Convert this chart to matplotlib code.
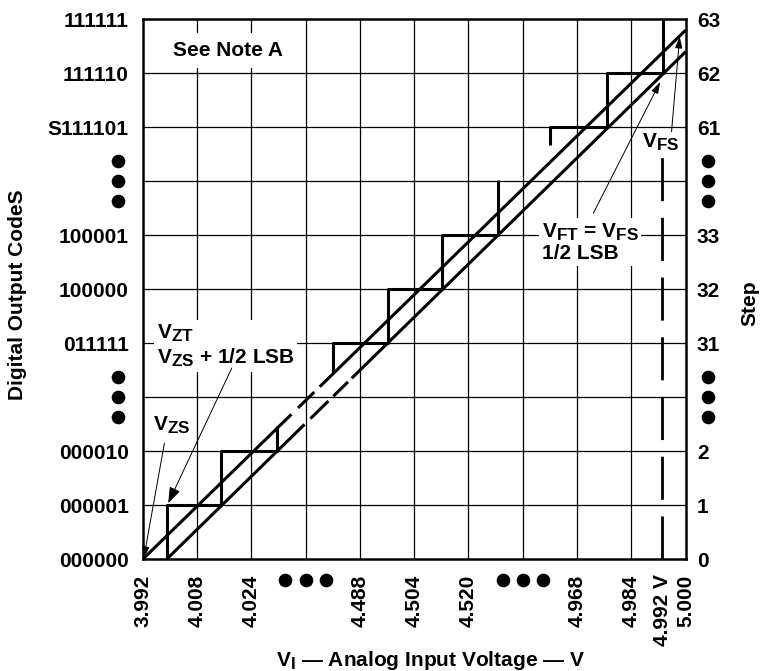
import matplotlib
matplotlib.use("Agg")
import matplotlib.pyplot as plt
import numpy as np
import matplotlib._mathtext as mt

# the drawing uses nearly full-size subscripts
if hasattr(mt, 'SHRINK_FACTOR'):
    mt.SHRINK_FACTOR = 0.82

plt.rcParams['font.family'] = ['Liberation Sans', 'DejaVu Sans']
plt.rcParams['font.weight'] = 'bold'
plt.rcParams['mathtext.fontset'] = 'custom'
plt.rcParams['mathtext.rm'] = 'Liberation Sans:bold'
plt.rcParams['mathtext.it'] = 'Liberation Sans:bold'
plt.rcParams['mathtext.bf'] = 'Liberation Sans:bold'

# x axis (input voltage), grid cells = 1 LSB
x_pos = [0, 1, 2, 3, 4, 5, 6, 7, 8, 9, 9.57, 10]
x_labels = ['3.992', '4.008', '4.024', '', '4.488', '4.504', '4.520', '',
            '4.968', '4.984', '4.992 V', '5.000']
# y axis (output codes / steps)
y_pos = [0, 1, 2, 3, 4, 5, 6, 7, 8, 9, 10]
code_labels = ['000000', '000001', '000010', '', '011111', '100000', '100001', '',
               'S111101', '111110', '111111']
step_labels = ['0', '1', '2', '', '31', '32', '33', '', '61', '62', '63']
breaks = [3, 7]

# staircase (transfer function), three visible pieces
stair_pieces = [
    ([0.44, 0.44, 1.44, 1.44, 2.47, 2.47], [0, 1, 1, 2, 2, 2.46]),
    ([3.51, 3.51, 4.51, 4.51, 5.52, 5.52, 6.55, 6.55], [3.47, 4, 4, 5, 5, 6, 6, 7.02]),
    ([7.51, 7.51, 8.56, 8.56, 9.59, 9.59], [7.67, 8, 8, 9, 9, 10]),
]

# straight lines: ideal through V_ZS and offset through the step corners
upper_x, upper_y = [0, 10], [0, 9.8]
upper_spans = [(0, 2.74), (2.86, 3.16), (3.26, 10)]
lower_x, lower_y = [0.44, 10], [0, 9.40]
lower_spans = [(0.44, 2.98), (3.09, 3.42), (3.51, 3.78), (3.85, 10)]

v_492 = 9.57
v_492_top = 7.45

fig = plt.figure(figsize=(7.61, 6.71), dpi=100)
ax = fig.add_axes([0.1875, 0.1665, 0.7135, 0.8047])
ax.set_xlim(0, 10)
ax.set_ylim(0, 10)

# grid
for g in range(1, 10):
    ax.axvline(g, color='black', lw=0.9, zorder=1)
    ax.axhline(g, color='black', lw=0.9, zorder=1)

for xs, ys in stair_pieces:
    ax.plot(xs, ys, color='black', lw=2.2, zorder=5, solid_capstyle='butt')

for a, b in upper_spans:
    xs = np.array([a, b])
    ax.plot(xs, np.interp(xs, upper_x, upper_y), color='black', lw=2.2, zorder=5,
            solid_capstyle='butt')
for a, b in lower_spans:
    xs = np.array([a, b])
    ax.plot(xs, np.interp(xs, lower_x, lower_y), color='black', lw=2.2, zorder=5,
            solid_capstyle='butt')

ax.plot([v_492, v_492], [0, v_492_top], color='black', lw=2.0,
        linestyle=(0, (15.5, 6)), zorder=5)

for s in ax.spines.values():
    s.set_linewidth(1.8)
    s.set_zorder(6)

ax.set_xticks(x_pos)
ax.set_xticklabels(x_labels, rotation=90, fontsize=15, fontweight='bold')
ax.set_yticks(y_pos)
ax.set_yticklabels(code_labels, fontsize=15, fontweight='bold')
ax.tick_params(axis='both', length=0)
ax.tick_params(axis='y', pad=10)
ax.tick_params(axis='x', pad=11)

ax2 = ax.twinx()
ax2.set_ylim(0, 10)
ax2.set_yticks(y_pos)
ax2.set_yticklabels(step_labels, fontsize=15, fontweight='bold')
ax2.tick_params(axis='y', length=0, pad=8)
for s in ax2.spines.values():
    s.set_visible(False)

# axis break dots
off = [-0.37, 0, 0.37]
for b in breaks:
    ax.plot([b + o for o in off], [-0.38] * 3, 'o', color='black', ms=8.8,
            clip_on=False, zorder=6)
    ax.plot([-0.45] * 3, [b + o for o in off], 'o', color='black', ms=8.8,
            clip_on=False, zorder=6)
    ax.plot([10.42] * 3, [b + o for o in off], 'o', color='black', ms=8.8,
            clip_on=False, zorder=6)

white = dict(facecolor='white', edgecolor='none', pad=2)
ax.text(0.56, 9.42, 'See Note A', fontsize=15, fontweight='bold', va='center',
        ha='left', bbox=dict(facecolor='white', edgecolor='none', pad=6), zorder=3)
ax.text(0.26, 3.95, 'V$_{ZT}$\nV$_{ZS}$ + 1/2 LSB', fontsize=15, fontweight='bold',
        va='center', ha='left', linespacing=1.15, bbox=white, zorder=3)
ax.text(0.19, 2.39, 'V$_{ZS}$', fontsize=15, fontweight='bold', va='baseline',
        ha='left', zorder=3)
ax.text(7.35, 5.87, 'V$_{FT}$ = V$_{FS}$\n1/2 LSB', fontsize=15, fontweight='bold',
        va='center', ha='left', linespacing=1.05, bbox=white, zorder=3)
ax.text(9.19, 7.63, 'V$_{FS}$', fontsize=15, fontweight='bold', va='baseline',
        ha='left', zorder=3)

big = dict(arrowstyle='-|>,head_length=0.7,head_width=0.25', lw=0.7, color='black',
           mutation_scale=14, shrinkA=0, shrinkB=0)
small = dict(arrowstyle='-|>,head_length=0.7,head_width=0.22', lw=0.7, color='black',
             mutation_scale=10, shrinkA=0, shrinkB=0)
ax.annotate('', xy=(0.47, 1.04), xytext=(1.64, 3.54), arrowprops=big, zorder=6)
ax.annotate('', xy=(0.02, 0.02), xytext=(0.40, 2.15), arrowprops=small, zorder=6)
ax.annotate('', xy=(9.53, 8.84), xytext=(8.30, 6.41), arrowprops=small, zorder=6)
ax.annotate('', xy=(9.89, 9.68), xytext=(9.74, 7.92), arrowprops=small, zorder=6)

fig.text(18 / 761, 1 - 295 / 671, 'Digital Output CodeS', rotation=90, fontsize=15,
         fontweight='bold', ha='center', va='center')
fig.text(750 / 761, 1 - 303 / 671, 'Step', rotation=90, fontsize=15,
         fontweight='bold', ha='center', va='center')
fig.text(430 / 761, 1 - 660 / 671, 'V$_{I}$ — Analog Input Voltage — V', fontsize=15,
         fontweight='bold', ha='center', va='center')

fig.savefig('out.png', dpi=100)
